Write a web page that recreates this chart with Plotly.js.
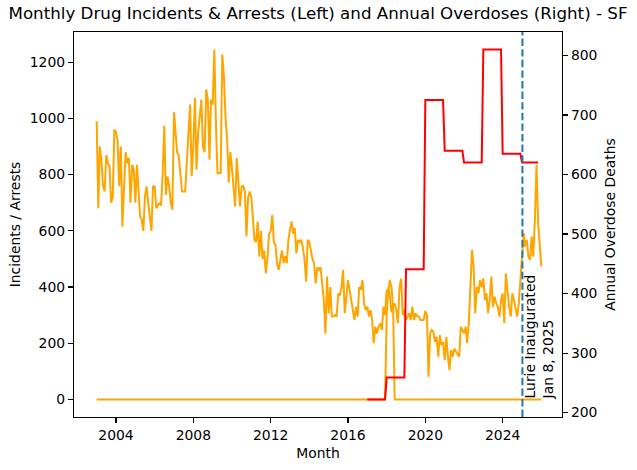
<!DOCTYPE html>
<html>
<head>
<meta charset="utf-8">
<script src="https://cdn.plot.ly/plotly-3.0.1.min.js"></script>
<style>html,body{margin:0;padding:0;background:#fff;}#chart{width:637px;height:470px;}</style>
</head>
<body>
<div id="chart"></div>
<script>
// Monthly series start (first month) — one value per month from 2003-01 to 2026-01
const startYear = 2003;

// Monthly drug incidents (left axis), 2003-01 .. 2026-01
const incidents = [
  990, 680, 900, 850, 760, 740, 870, 840, 830, 700, 720, 960,   // 2003
  950, 920, 760, 900, 615, 790, 880, 840, 860, 700, 835, 820,   // 2004
  700, 835, 740, 651, 640, 600, 722, 758, 700, 640, 600, 758,   // 2005
  758, 680, 690, 700, 690, 800, 974, 728, 794, 760, 700, 675,   // 2006
  1022, 950, 880, 865, 800, 740, 740, 740, 850, 950, 1049, 794, // 2007
  900, 1073, 817, 950, 1000, 1067, 900, 880, 1103, 1067, 853, 1067, // 2008
  1050, 1245, 1000, 806, 806, 806, 1227, 1150, 1000, 924, 771, 880, // 2009
  820, 760, 687, 859, 780, 687, 758, 760, 740, 580, 720, 740,   // 2010
  720, 650, 568, 560, 633, 508, 600, 500, 530, 449, 500, 590,   // 2011
  597, 657, 560, 550, 485, 461, 500, 530, 485, 510, 485, 568,   // 2012
  604, 633, 590, 610, 520, 568, 560, 568, 540, 500, 419, 568,   // 2013
  560, 520, 500, 485, 413, 470, 461, 470, 401, 354, 235, 437,   // 2014
  307, 400, 295, 295, 300, 295, 378, 370, 400, 461, 307, 378,   // 2015
  425, 390, 354, 330, 283, 330, 295, 400, 390, 425, 340, 318,   // 2016
  330, 295, 318, 283, 200, 259, 235, 259, 271, 247, 330, 300,   // 2017
  390, 378, 425, 400, 330, 342, 318, 271, 400, 430, 300, 320,   // 2018
  283, 295, 307, 283, 330, 283, 307, 295, 295, 283, 283, 283,   // 2019
  315, 300, 81, 235, 247, 241, 205, 223, 152, 229, 194, 205,    // 2020
  140, 223, 158, 104, 176, 152, 181, 170, 160, 152, 259, 247,   // 2021
  235, 259, 200, 271, 378, 532, 473, 307, 401, 378, 425, 400,   // 2022
  431, 354, 378, 307, 354, 437, 330, 366, 342, 330, 295, 354,   // 2023
  378, 271, 449, 378, 330, 295, 378, 354, 318, 295, 342, 430,   // 2024
  520, 592, 544, 568, 508, 497, 580, 508, 640, 835, 627, 560,   // 2025
  473                                                           // 2026-01
];

// Monthly drug arrests (left axis), 2003-01 .. 2026-01
const arrests = [
  0,0,0,0,0,0,0,0,0,0,0,0,   // 2003
  0,0,0,0,0,0,0,0,0,0,0,0,   // 2004
  0,0,0,0,0,0,0,0,0,0,0,0,   // 2005
  0,0,0,0,0,0,0,0,0,0,0,0,   // 2006
  0,0,0,0,0,0,0,0,0,0,0,0,   // 2007
  0,0,0,0,0,0,0,0,0,0,0,0,   // 2008
  0,0,0,0,0,0,0,0,0,0,0,0,   // 2009
  0,0,0,0,0,0,0,0,0,0,0,0,   // 2010
  0,0,0,0,0,0,0,0,0,0,0,0,   // 2011
  0,0,0,0,0,0,0,0,0,0,0,0,   // 2012
  0,0,0,0,0,0,0,0,0,0,0,0,   // 2013
  0,0,0,0,0,0,0,0,0,0,0,0,   // 2014
  0,0,0,0,0,0,0,0,0,0,0,0,   // 2015
  0,0,0,0,0,0,0,0,0,0,0,0,   // 2016
  0,0,0,0,0,0,0,0,0,0,0,0,   // 2017
  300,400,370,310,340,0,0,0,0,0,0,0, // 2018
  0,0,0,0,0,0,0,0,0,0,0,0,   // 2019
  0,0,0,0,0,0,0,0,0,0,0,0,   // 2020
  0,0,0,0,0,0,0,0,0,0,0,0,   // 2021
  0,0,0,0,0,0,0,0,0,0,0,0,   // 2022
  0,0,0,0,0,0,0,0,0,0,0,0,   // 2023
  0,0,0,0,0,0,0,0,0,0,0,0,   // 2024
  0,0,0,0,0,0,0,0,0,0,0,0,   // 2025
  0                          // 2026-01
];

// Annual overdose deaths (right axis), shown for every month of the year
const overdoseYears  = [2017, 2018, 2019, 2020, 2021, 2022, 2023, 2024, 2025];
const overdoseDeaths = [222, 259, 441, 725, 640, 620, 810, 635, 620];
const overdoseLastMonth = 11; // data through 2025-11

// Tick labels
const xTickYears = ['2004', '2008', '2012', '2016', '2020', '2024'];
const leftTicks  = [0, 200, 400, 600, 800, 1000, 1200];
const rightTicks = [200, 300, 400, 500, 600, 700, 800];

// Event marker
const eventDate  = '2025-01-08';
const eventLabel = 'Lurie Inaugurated<br>Jan 8, 2025';

function monthStr(y, m) { return y + '-' + String(m).padStart(2, '0') + '-01'; }

const months = incidents.map((_, i) => monthStr(startYear + Math.floor(i / 12), (i % 12) + 1));

const odX = [], odY = [];
overdoseYears.forEach((yr, k) => {
  const last = (k === overdoseYears.length - 1) ? overdoseLastMonth : 12;
  for (let m = 1; m <= last; m++) { odX.push(monthStr(yr, m)); odY.push(overdoseDeaths[k]); }
});

const FONT = 'DejaVu Sans, Liberation Sans, sans-serif';

const traces = [
  { x: months, y: incidents, type: 'scatter', mode: 'lines', name: 'Drug Incidents',
    line: { color: '#FFA500', width: 2 }, xaxis: 'x', yaxis: 'y' },
  { x: months, y: arrests, type: 'scatter', mode: 'lines', name: 'Drug Arrests',
    line: { color: '#FFA500', width: 2 }, xaxis: 'x', yaxis: 'y' },
  { x: odX, y: odY, type: 'scatter', mode: 'lines', name: 'Annual Overdose Deaths',
    line: { color: '#FF0000', width: 2 }, xaxis: 'x', yaxis: 'y2' }
];

const axisCommon = {
  ticks: 'outside', ticklen: 5, tickwidth: 1.1, tickcolor: 'black',
  showline: true, linecolor: 'black', linewidth: 1.1,
  showgrid: false, zeroline: false,
  tickfont: { family: FONT, size: 13.9, color: 'black' }
};

const layout = {
  width: 637, height: 470,
  margin: { l: 74, r: 75, t: 32, b: 53, pad: 0 },
  paper_bgcolor: 'white', plot_bgcolor: 'white',
  font: { family: FONT, size: 13.9, color: 'black' },
  showlegend: false,
  title: {
    text: 'Monthly Drug Incidents & Arrests (Left) and Annual Overdoses (Right) - SF',
    font: { family: FONT, size: 16.7, color: 'black' },
    xref: 'paper', x: 0.5, xanchor: 'center',
    yref: 'container', y: 0.971, yanchor: 'middle'
  },
  xaxis: Object.assign({}, axisCommon, {
    type: 'date',
    range: ['2001-10-30', '2027-01-26'],
    tickvals: xTickYears.map(y => y + '-01-01'),
    ticktext: xTickYears,
    mirror: true,
    title: { text: 'Month', font: { family: FONT, size: 13.9, color: 'black' }, standoff: 6 }
  }),
  yaxis: Object.assign({}, axisCommon, {
    range: [-62.25, 1307.25],
    tickvals: leftTicks,
    ticktext: leftTicks.map(String),
    mirror: true,
    title: { text: 'Incidents / Arrests', font: { family: FONT, size: 13.9, color: 'black' }, standoff: 5 }
  }),
  yaxis2: Object.assign({}, axisCommon, {
    overlaying: 'y', side: 'right',
    range: [192.6, 839.4],
    tickvals: rightTicks,
    ticktext: rightTicks.map(String),
    title: { text: 'Annual Overdose Deaths', font: { family: FONT, size: 13.9, color: 'black' }, standoff: 8 }
  }),
  shapes: [{
    type: 'line', xref: 'x', yref: 'paper', x0: eventDate, x1: eventDate, y0: 0, y1: 1,
    line: { color: '#1f77b4', width: 2, dash: '7.4px,3.2px' }, layer: 'above'
  }],
  annotations: [{
    x: eventDate, y: 0, xref: 'x', yref: 'y',
    text: eventLabel, showarrow: false, textangle: -90,
    xanchor: 'left', yanchor: 'bottom', align: 'left',
    font: { family: FONT, size: 13.9, color: 'black' },
    borderpad: 0, xshift: -1, yshift: -1
  }]
};

Plotly.newPlot('chart', traces, layout, { displayModeBar: false, staticPlot: true });
</script>
</body>
</html>
